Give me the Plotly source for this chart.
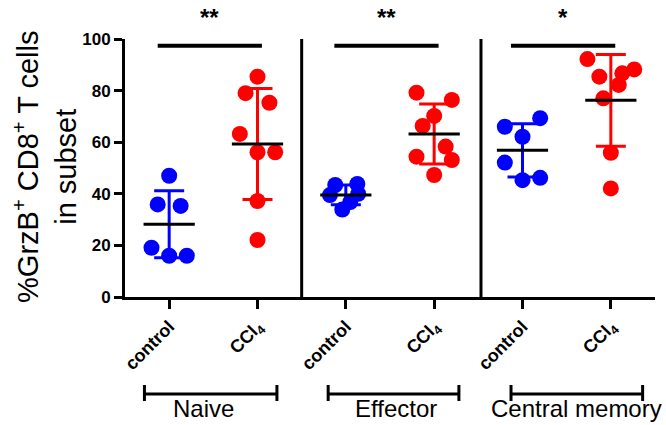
import numpy as np
import plotly.graph_objects as go

# ---- data ----
groups = ["Naive", "Effector", "Central memory"]
conditions = ["control", "CCl<sub>4</sub>"]
naive_control = [47.0, 35.9, 35.3, 19.1, 16.0, 16.0]
naive_ccl4 = [85.4, 79.0, 75.3, 63.2, 56.1, 56.1, 37.2, 22.1]
eff_control = [43.4, 43.8, 39.5, 40.0, 33.9, 36.8]
eff_ccl4 = [79.2, 76.4, 70.2, 66.3, 58.3, 54.4, 53.1, 47.3]
cm_control = [66.0, 69.3, 62.1, 52.1, 45.3, 46.2]
cm_ccl4 = [92.2, 88.2, 86.7, 85.4, 82.2, 77.0, 55.9, 42.1]
significance = ["**", "**", "*"]
y_ticks = [0, 20, 40, 60, 80, 100]

# horizontal scatter of points within each column (category units)
jit_naive_control = [0, -0.13, 0.13, -0.2, 0, 0.2]
jit_naive_ccl4 = [0, -0.135, 0.135, -0.2, 0, 0.2, 0, 0]
jit_eff_control = [-0.12, 0.13, -0.18, 0.14, -0.04, 0.05]
jit_eff_ccl4 = [-0.2, 0.2, 0, -0.13, 0.13, -0.2, 0.2, 0]
jit_cm_control = [-0.2, 0.2, 0, -0.2, 0, 0.2]
jit_cm_ccl4 = [-0.265, 0.265, 0.13, -0.13, 0.09, -0.085, 0, 0]

# layout positions (category units) of the group brackets / labels / separators
bracket_extents = [(-0.28, 1.22), (1.80, 3.28), (3.87, 5.36)]
label_x = [0.39, 2.57, 4.61]
separator_x = [1.5, 3.53]

series = [naive_control, naive_ccl4, eff_control, eff_ccl4, cm_control, cm_ccl4]
jitters = [jit_naive_control, jit_naive_ccl4, jit_eff_control, jit_eff_ccl4,
           jit_cm_control, jit_cm_ccl4]
colors = ["#0000FF", "#FF0000"] * 3
FONT = "Arial, Liberation Sans, sans-serif"

fig = go.Figure()
shapes = []

for i, (vals, jit, col) in enumerate(zip(series, jitters, colors)):
    v = np.array(vals)
    m = v.mean()
    sd = v.std(ddof=1)
    # error bar (mean +/- SD)
    fig.add_trace(go.Scatter(
        x=[i], y=[m], mode="markers",
        marker=dict(size=1, color=col, opacity=0),
        error_y=dict(type="data", array=[sd], visible=True, color=col,
                     thickness=3, width=15),
        showlegend=False, hoverinfo="skip"))
    # points
    fig.add_trace(go.Scatter(
        x=[i + j for j in jit], y=vals, mode="markers",
        marker=dict(size=16, color=col, line=dict(width=0)),
        showlegend=False))
    # mean line
    shapes.append(dict(type="line", xref="x", yref="y",
                       x0=i - 0.29, x1=i + 0.29, y0=m, y1=m,
                       line=dict(color="black", width=3)))

# separators between groups
for sx in separator_x:
    shapes.append(dict(type="line", xref="x", yref="y", x0=sx, x1=sx,
                       y0=0, y1=100.8, line=dict(color="black", width=3)))

annotations = []
for g, (name, sig) in enumerate(zip(groups, significance)):
    a, b = 2 * g, 2 * g + 1
    # significance bar
    shapes.append(dict(type="line", xref="x", yref="y",
                       x0=a - 0.13, x1=b + 0.05, y0=97.4, y1=97.4,
                       line=dict(color="black", width=4)))
    annotations.append(dict(x=(a + b) / 2 - 0.04, y=1.083, xref="x",
                            yref="paper", text=sig, showarrow=False,
                            xanchor="center", yanchor="middle",
                            font=dict(family=FONT, size=24, color="black",
                                      weight="bold")))
    # group bracket under the axis
    x0, x1 = bracket_extents[g]
    shapes.append(dict(type="line", xref="x", yref="paper", x0=x0, x1=x1,
                       y0=-0.376, y1=-0.376, line=dict(color="black", width=3)))
    for xx in (x0, x1):
        shapes.append(dict(type="line", xref="x", yref="paper", x0=xx, x1=xx,
                           y0=-0.341, y1=-0.403,
                           line=dict(color="black", width=3)))
    annotations.append(dict(x=label_x[g], y=-0.434, xref="x", yref="paper",
                            text=name, showarrow=False, xanchor="center",
                            yanchor="middle",
                            font=dict(family=FONT, size=24, color="black")))

# y title
annotations.append(dict(x=-0.151, y=0.504, xref="paper", yref="paper",
                        text="%GrzB<sup>+</sup> CD8<sup>+</sup> T cells<br>in subset",
                        textangle=-90, showarrow=False,
                        xanchor="center", yanchor="middle",
                        font=dict(family=FONT, size=29, color="black")))

fig.update_layout(
    width=666, height=425,
    margin=dict(l=125, r=11, t=39, b=128),
    paper_bgcolor="white", plot_bgcolor="white",
    shapes=shapes, annotations=annotations,
    showlegend=False,
    xaxis=dict(range=[-0.5, 5.5], tickmode="array",
               tickvals=list(range(6)), ticktext=conditions * 3,
               tickangle=-45, ticks="outside", ticklen=9, tickwidth=3,
               tickcolor="black", showline=True, linewidth=3,
               linecolor="black", showgrid=False, zeroline=False,
               tickfont=dict(family=FONT, size=18, color="black",
                             weight="bold")),
    yaxis=dict(range=[0, 100], tickvals=y_ticks, ticks="outside",
               ticklen=8, tickwidth=3, tickcolor="black", showline=True,
               linewidth=3, linecolor="black", showgrid=False,
               zeroline=False,
               tickfont=dict(family=FONT, size=17, color="black",
                             weight="bold")),
)

fig.write_html("out.html", config={"displayModeBar": False},
               post_script="document.body.style.margin='0px';")
